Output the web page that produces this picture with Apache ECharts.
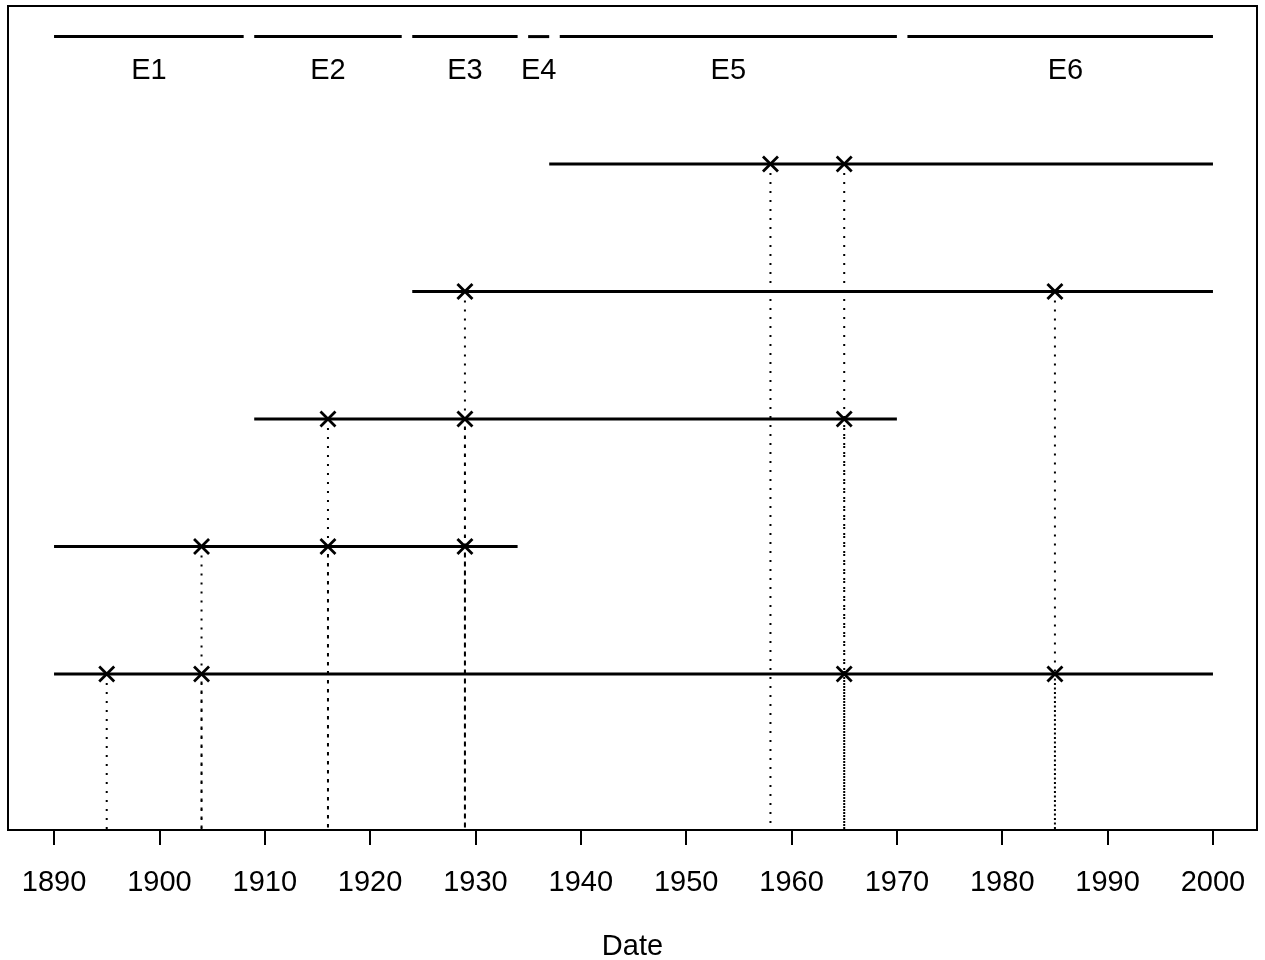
<!DOCTYPE html>
<html>
<head>
<meta charset="utf-8">
<script src="https://cdn.jsdelivr.net/npm/echarts@6/dist/echarts.min.js"></script>
<style>html,body{margin:0;padding:0;background:#fff}#c{width:1265px;height:960px}</style>
</head>
<body>
<div id="c"></div>
<script>
// ---- data ----
const eraNames  = ['E1', 'E2', 'E3', 'E4', 'E5', 'E6'];
const eraStart  = [1890, 1909, 1924, 1935, 1938, 1971];
const eraEnd    = [1908, 1923, 1934, 1937, 1970, 2000];
const eraLabelX = [1899, 1916, 1929, 1936, 1954, 1986];

const rowIds   = [1, 2, 3, 4, 5];
const rowStart = [1890, 1890, 1909, 1924, 1937];
const rowEnd   = [2000, 1934, 1970, 2000, 2000];
const rowEvents = [
  [1895, 1904, 1965, 1985],
  [1904, 1916, 1929],
  [1916, 1929, 1965],
  [1929, 1985],
  [1958, 1965]
];
const tickYears = [1890, 1900, 1910, 1920, 1930, 1940, 1950, 1960, 1970, 1980, 1990, 2000];
const xTitle = 'Date';

// ---- layout constants ----
const X_MIN = 1885.63, X_MAX = 2004.18;
const Y_MIN = -0.224, Y_MAX = 6.24;
const ERA_Y = 6.0, ERA_LABEL_Y = 5.73;
const FONT = '"Liberation Sans", Arial, sans-serif';

const eraData = eraNames.map((n, i) => [eraStart[i], eraEnd[i], eraLabelX[i]]);
const spanData = rowIds.map((r, i) => [rowStart[i], rowEnd[i], r]);
const eventData = [];
rowEvents.forEach((evs, i) => evs.forEach(y => eventData.push([y, rowIds[i]])));

const chart = echarts.init(document.getElementById('c'), null, {renderer: 'canvas'});
chart.setOption({
  backgroundColor: '#fff',
  animation: false,
  grid: {left: 8, right: 8, top: 6, bottom: 130, show: true, borderColor: '#000', borderWidth: 2,
    backgroundColor: 'transparent', containLabel: false, outerBoundsMode: 'none'},
  xAxis: {
    type: 'value', min: X_MIN, max: X_MAX,
    axisLine: {show: false, onZero: false},
    splitLine: {show: false},
    axisTick: {show: true, inside: false, customValues: tickYears, length: 15, lineStyle: {color: '#000', width: 2}},
    axisLabel: {customValues: tickYears, fontSize: 29, color: '#000', fontFamily: FONT, margin: 38, formatter: v => String(v)},
    name: xTitle, nameLocation: 'middle', nameGap: 102,
    nameTextStyle: {fontSize: 29, color: '#000', fontFamily: FONT}
  },
  yAxis: {
    type: 'value', min: Y_MIN, max: Y_MAX, show: false, splitLine: {show: false}
  },
  series: [
    {
      type: 'custom', name: 'drops', data: eventData, clip: false,
      encode: {x: 0, y: 1},
      renderItem: (params, api) => {
        const p = api.coord([api.value(0), api.value(1)]);
        const b = api.coord([api.value(0), Y_MIN]);
        return {type: 'line', shape: {x1: p[0], y1: p[1] + 9, x2: b[0], y2: b[1]},
          style: {stroke: '#000', lineWidth: 2, lineDash: [2, 7]}};
      }
    },
    {
      type: 'custom', name: 'spans', data: spanData, clip: false,
      encode: {x: [0, 1], y: 2},
      renderItem: (params, api) => {
        const a = api.coord([api.value(0), api.value(2)]);
        const b = api.coord([api.value(1), api.value(2)]);
        return {type: 'line', shape: {x1: a[0], y1: a[1], x2: b[0], y2: b[1]},
          style: {stroke: '#000', lineWidth: 3}};
      }
    },
    {
      type: 'custom', name: 'events', data: eventData, clip: false,
      encode: {x: 0, y: 1},
      renderItem: (params, api) => {
        const p = api.coord([api.value(0), api.value(1)]);
        const s = 7.5;
        return {type: 'group', children: [
          {type: 'line', shape: {x1: p[0] - s, y1: p[1] - s, x2: p[0] + s, y2: p[1] + s}, style: {stroke: '#000', lineWidth: 2.8}},
          {type: 'line', shape: {x1: p[0] - s, y1: p[1] + s, x2: p[0] + s, y2: p[1] - s}, style: {stroke: '#000', lineWidth: 2.8}}
        ]};
      }
    },
    {
      type: 'custom', name: 'eras', data: eraData, clip: false,
      encode: {x: [0, 1]},
      renderItem: (params, api) => {
        const s = api.value(0), e = api.value(1), lx = api.value(2);
        const a = api.coord([s, ERA_Y]);
        const b = api.coord([e, ERA_Y]);
        const m = api.coord([lx, ERA_LABEL_Y]);
        return {type: 'group', children: [
          {type: 'line', shape: {x1: a[0], y1: a[1], x2: b[0], y2: b[1]}, style: {stroke: '#000', lineWidth: 3}},
          {type: 'text', x: m[0], y: m[1], style: {text: eraNames[params.dataIndex], fontSize: 29, fontFamily: FONT, fill: '#000', align: 'center', verticalAlign: 'middle'}}
        ]};
      }
    }
  ]
});
</script>
</body>
</html>
